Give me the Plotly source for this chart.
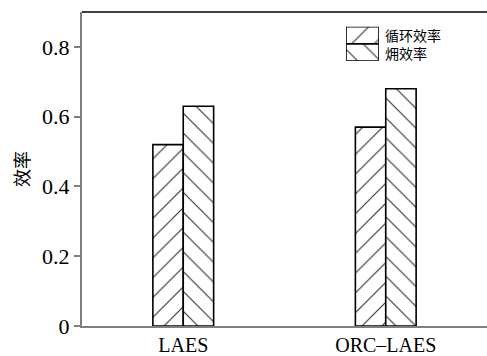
import plotly.graph_objects as go

# Efficiency data for the two systems
systems = ["LAES", "ORC–LAES"]
cycle_eff = [0.52, 0.57]    # 循环效率
exergy_eff = [0.63, 0.68]   # 㶲效率
series_names = ["循环效率", "㶲效率"]
y_ticks = [0, 0.2, 0.4, 0.6, 0.8]
y_tick_text = ["0", "0.2", "0.4", "0.6", "0.8"]

serif = "Liberation Serif, Times New Roman, serif"
cjk = "Noto Sans CJK SC, sans-serif"


def hatch(shape, size, solidity):
    return dict(shape=shape, size=size, solidity=solidity,
                fgcolor="#333333", bgcolor="white", fillmode="replace")


fig = go.Figure()

bar_w = 0.15
fig.add_trace(go.Bar(
    x=systems, y=cycle_eff, width=bar_w, offset=-bar_w, name=series_names[0],
    marker=dict(color="white", line=dict(color="black", width=1.6),
                pattern=hatch("/", 14, 0.08)),
    showlegend=False,
))
fig.add_trace(go.Bar(
    x=systems, y=exergy_eff, width=bar_w, offset=0, name=series_names[1],
    marker=dict(color="white", line=dict(color="black", width=1.6),
                pattern=hatch("\\", 14, 0.08)),
    showlegend=False,
))

# Legend swatches drawn as bars on a small auxiliary axis
leg_x0, leg_x1 = 0.652, 0.733
leg_y0, leg_y1 = 0.844, 0.953
for idx, shape in enumerate(["/", "\\"]):
    fig.add_trace(go.Bar(
        x=[1], y=[1 - idx], orientation="h", width=1, base=0,
        xaxis="x2", yaxis="y2", showlegend=False, hoverinfo="skip",
        marker=dict(color="white", line=dict(color="black", width=1.6),
                    pattern=hatch(shape, 16, 0.07)),
    ))

# Legend labels, one per line next to the swatches
fig.add_annotation(
    xref="paper", yref="paper", x=leg_x1 + 0.012, y=(leg_y0 + leg_y1) / 2,
    text="<br>".join(series_names), showarrow=False,
    xanchor="left", yanchor="middle", align="left",
    font=dict(family=cjk, size=14, color="black"), borderpad=0,
)

fig.update_layout(
    width=487, height=356,
    margin=dict(l=82, r=0, t=12, b=24),
    paper_bgcolor="white", plot_bgcolor="white",
    barmode="overlay",
    xaxis=dict(
        range=[-0.5, 1.5], showgrid=False, zeroline=False,
        showline=True, linecolor="#7f7f7f", linewidth=2,
        ticks="", tickfont=dict(family=serif, size=20, color="black"),
    ),
    yaxis=dict(
        range=[0, 0.9], tickvals=y_ticks, ticktext=y_tick_text,
        showgrid=False, zeroline=False,
        showline=True, linecolor="#7f7f7f", linewidth=2,
        ticks="outside", ticklen=6, tickcolor="#7f7f7f", tickwidth=1.5,
        tickfont=dict(family=serif, size=22, color="black"),
        title=dict(text="效率", font=dict(family=cjk, size=18, color="black"), standoff=8),
    ),
    xaxis2=dict(domain=[leg_x0, leg_x1], range=[0, 1], anchor="y2", visible=False, fixedrange=True),
    yaxis2=dict(domain=[leg_y0, leg_y1], range=[-0.5, 1.5], anchor="x2", visible=False, fixedrange=True),
    shapes=[dict(type="line", xref="paper", yref="paper", x0=0, x1=1, y0=1, y1=1,
                 line=dict(color="black", width=1.6))],
)

fig.write_html("out.html")
